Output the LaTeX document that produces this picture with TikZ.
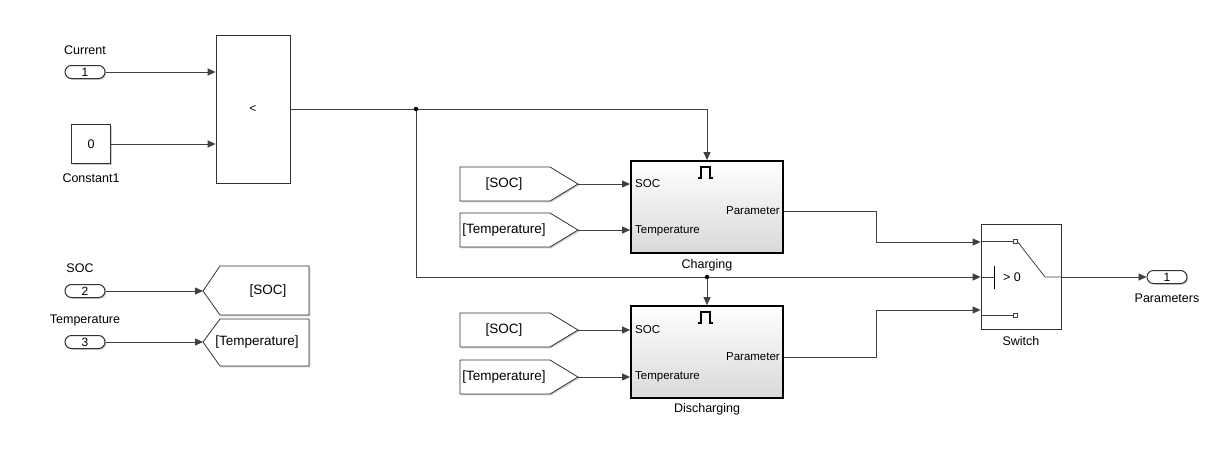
\documentclass[tikz,border=0pt]{standalone}
\usepackage{fontspec}
\setmainfont{Liberation Sans}
\usetikzlibrary{arrows.meta,shadows}

\begin{document}
\begin{tikzpicture}[x=1pt,y=-1pt,
    wire/.style={draw=black!75,line width=0.8pt},
    sig/.style={wire,-{Triangle[length=8pt,width=7pt]}},
    shade/.style={drop shadow={shadow xshift=1.3pt,shadow yshift=-1.3pt,fill=black!40}},
    blk/.style={draw=black!80,line width=0.8pt,fill=white,inner sep=0pt,shade},
    port/.style={blk,line width=1pt,rounded corners=6.5pt,minimum width=40pt,minimum height=13pt,font=\fontsize{12}{13}\selectfont},
    tag/.style={draw=black!80,line width=0.8pt,fill=white,shade},
    subsys/.style={draw=black,line width=1.8pt,top color=white,bottom color=black!15,minimum width=152pt,minimum height=92pt,inner sep=0pt},
    lbl/.style={font=\fontsize{12.5}{13}\selectfont,inner sep=0pt},
    tlbl/.style={font=\fontsize{13.5}{14}\selectfont,inner sep=0pt},
    plbl/.style={font=\fontsize{11.5}{12}\selectfont,inner sep=0pt},
    dot/.style={circle,fill=black,inner sep=0pt,minimum size=4.5pt}]
    \useasboundingbox (0,0) rectangle (1232,453);

    % inputs
    \node[port] (in1) at (85,72) {1};
    \node[lbl] (in1lbl) at (85,50) {Current};
    \node[blk,minimum size=39pt,font=\fontsize{12.5}{13}\selectfont] (const) at (91,144) {0};
    \node[lbl] (constlbl) at (91,178) {Constant1};
    \node[port] (in2) at (85,291) {2};
    \node[lbl] (in2lbl) at (80,268) {SOC};
    \node[port] (in3) at (85,342) {3};
    \node[lbl] (in3lbl) at (85,320) {Temperature};

    % compare
    \node[blk,minimum width=74pt,minimum height=148pt,font=\fontsize{12}{13}\selectfont] (rel) at (253,109) {<};

    % goto blocks
    \path[tag] (203,291) -- (220,266) -- (309,266) -- (309,315) -- (220,315) -- cycle;
    \coordinate (gsoc) at (203,291);
    \node[tlbl] (gsoctxt) at (268,291) {[SOC]};
    \path[tag] (203,342) -- (220,319) -- (309,319) -- (309,366) -- (220,366) -- cycle;
    \coordinate (gtemp) at (203,342);
    \node[tlbl] (gtemptxt) at (257,342) {[Temperature]};

    % from blocks
    \path[tag] (460,167) -- (550,167) -- (578,184) -- (550,201) -- (460,201) -- cycle;
    \coordinate (fsoc1) at (578,184);
    \node[tlbl] (fsoc1txt) at (504,184) {[SOC]};
    \path[tag] (460,213) -- (550,213) -- (578,230) -- (550,247) -- (460,247) -- cycle;
    \coordinate (ftemp1) at (578,230);
    \node[tlbl] (ftemp1txt) at (504,230) {[Temperature]};
    \path[tag] (460,313) -- (550,313) -- (578,330) -- (550,347) -- (460,347) -- cycle;
    \coordinate (fsoc2) at (578,330);
    \node[tlbl] (fsoc2txt) at (504,330) {[SOC]};
    \path[tag] (460,360) -- (550,360) -- (578,377) -- (550,394) -- (460,394) -- cycle;
    \coordinate (ftemp2) at (578,377);
    \node[tlbl] (ftemp2txt) at (504,377) {[Temperature]};

    % subsystems
    \node[subsys] (chg) at (707,207) {};
    \node[plbl,anchor=west] (chgsoc) at (635,184) {SOC};
    \node[plbl,anchor=west] (chgtemp) at (635,231) {Temperature};
    \node[plbl,anchor=east] (chgpar) at (780,211) {Parameter};
    \draw[line width=1.2pt] (698,178) -- (701,178) -- (701,167) -- (710,167) -- (710,178) -- (713,178);
    \node[lbl] (chglbl) at (707,265) {Charging};

    \node[subsys] (dis) at (707,352) {};
    \node[plbl,anchor=west] (dissoc) at (635,330) {SOC};
    \node[plbl,anchor=west] (distemp) at (635,377) {Temperature};
    \node[plbl,anchor=east] (dispar) at (780,357) {Parameter};
    \draw[line width=1.2pt] (698,323) -- (701,323) -- (701,312) -- (710,312) -- (710,323) -- (713,323);
    \node[lbl] (dislbl) at (707,409) {Discharging};

    % switch
    \node[blk,minimum width=80pt,minimum height=105pt] (sw) at (1021,276.5) {};
    \draw[wire] (sw.west |- 0,241) -- (1013,241);
    \draw[wire,fill=white] (1013,239) rectangle (1017,243);
    \draw[wire] (sw.west |- 0,315) -- (1013,315);
    \draw[wire,fill=white] (1013,313) rectangle (1017,317);
    \draw[wire] (1017,241) -- (1045,277) -- (sw.east |- 0,277);
    \draw[wire] (sw.west |- 0,277) -- (994,277);
    \draw[line width=1pt] (994,266) -- (994,289);
    \node[lbl] (swtxt) at (1012,277) {> 0};
    \node[lbl] (swlbl) at (1021,341) {Switch};

    % output
    \node[port] (out1) at (1167,277) {1};
    \node[lbl] (outlbl) at (1167,298) {Parameters};

    % branch points
    \coordinate (tap1) at (416,109);
    \coordinate (bend1) at (707,109);
    \coordinate (bend2) at (416,277);
    \coordinate (tap2) at (707,277);
    \coordinate (c1) at (876,211);
    \coordinate (c2) at (876,242);
    \coordinate (d1) at (876,357);
    \coordinate (d2) at (876,310);

    % edges
    \draw[sig] (in1) -- (in1 -| rel.west);
    \draw[sig] (const) -- (const -| rel.west);
    \draw[sig] (in2) -- (gsoc);
    \draw[sig] (in3) -- (gtemp);
    \draw[sig] (rel.east) -- (bend1) -- (chg.north);
    \draw[sig] (tap1) -- (bend2) -- (sw.west |- tap2);
    \draw[sig] (tap2) -- (dis.north);
    \draw[sig] (fsoc1) -- (fsoc1 -| chg.west);
    \draw[sig] (ftemp1) -- (ftemp1 -| chg.west);
    \draw[sig] (fsoc2) -- (fsoc2 -| dis.west);
    \draw[sig] (ftemp2) -- (ftemp2 -| dis.west);
    \draw[sig] (chg.east |- c1) -- (c1) -- (c2) -- (sw.west |- c2);
    \draw[sig] (dis.east |- d1) -- (d1) -- (d2) -- (sw.west |- d2);
    \draw[sig] (sw.east |- tap2) -- (out1.west);
    \node[dot] (dot1) at (tap1) {};
    \node[dot] (dot2) at (tap2) {};
\end{tikzpicture}
\end{document}
